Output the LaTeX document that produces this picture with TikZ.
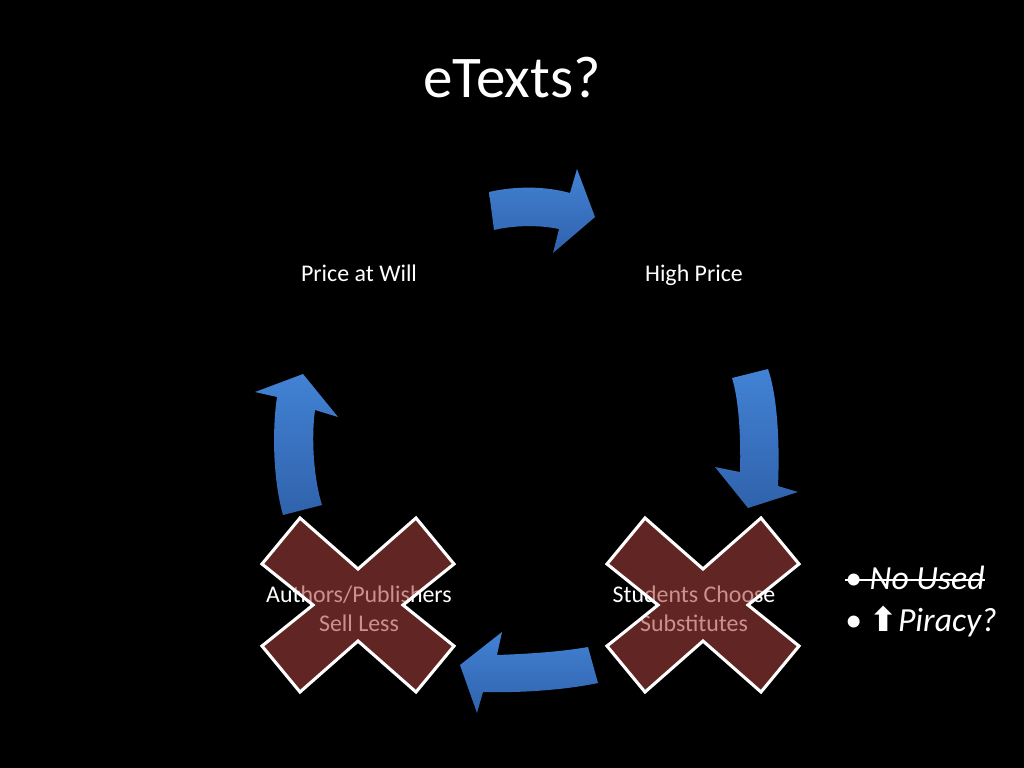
\documentclass[tikz,border=0pt]{standalone}
\usepackage{fontspec}
\setmainfont{Carlito}
\newfontfamily\symfont{DejaVu Sans}
\usepackage{tikz}
\usetikzlibrary{positioning}
\definecolor{arrowtop}{RGB}{66,130,212}
\definecolor{arrowbot}{RGB}{48,98,172}
\definecolor{crossred}{RGB}{168,66,62}

\begin{document}
\begin{tikzpicture}[
  x=0.025cm, y=-0.025cm,
  label/.style={text=white, align=center, font=\fontsize{17}{21}\selectfont},
  note/.style={text=white, anchor=west, inner sep=0pt, font=\fontsize{24}{30}\selectfont},
  blockarrow/.style={top color=arrowtop, bottom color=arrowbot, draw=none},
  xcross/.pic={
    \filldraw[fill=crossred, fill opacity=0.58, draw=white, line width=2.2pt, line join=miter]
      (-58,-87) -- (0,-36) -- (58,-87) -- (96,-41) -- (45,0) -- (96,41) -- (58,87) -- (0,36)
      -- (-58,87) -- (-96,41) -- (-45,0) -- (-96,-41) -- cycle;
  }
]
  \fill[black] (0,0) rectangle (1024,768);
  \useasboundingbox (0,0) rectangle (1024,768);

  \node[text=white, font=\fontsize{42}{48}\selectfont] (title) at (512,78) {eTexts?};

  \node[label] (pricewill) at (359,273) {Price at Will};
  \node[label] (highprice) at (694,275) {High Price};
  \node[label] (students) at (694,609) {Students Choose\\Substitutes};
  \node[label] (authors) at (359,609) {Authors/Publishers\\Sell Less};

  % curved block arrows of the cycle
  \shade[blockarrow] (489,192) .. controls (515,186) and (545,186) .. (570,193) -- (577,169)
    -- (595,217) -- (553,253) -- (559,229) .. controls (540,225) and (515,225) .. (494,230) -- cycle;
  \shade[blockarrow] (732,378) -- (768,369) .. controls (777,395) and (780,440) .. (778,486)
    -- (798,492) -- (748,508) -- (715,467) -- (740,472) .. controls (741,440) and (739,400) .. (732,378) -- cycle;
  \shade[blockarrow] (460,665) -- (502,632) -- (497,655) .. controls (525,654) and (560,652) .. (588,647)
    -- (598,683) .. controls (565,690) and (520,693) .. (483,692) -- (477,713) -- cycle;
  \shade[blockarrow] (303,374) -- (338,417) -- (315,410) .. controls (311,440) and (314,480) .. (322,505)
    -- (283,515) .. controls (273,480) and (272,430) .. (277,397) -- (255,392) -- cycle;

  % crossed-out steps
  \pic at (358,605) {xcross};
  \pic at (703,605) {xcross};

  \node[note] (noused) at (845,578) {\textbullet\ \textit{No Used}};
  \node[note] (piracy) at (845,621) {\textbullet\ {\symfont\bfseries ⬆}\textit{Piracy?}};
  \draw[white, line width=1.3pt] (noused.west) ++(0,2) -- ([yshift=-0.05cm]noused.east);
\end{tikzpicture}
\end{document}
